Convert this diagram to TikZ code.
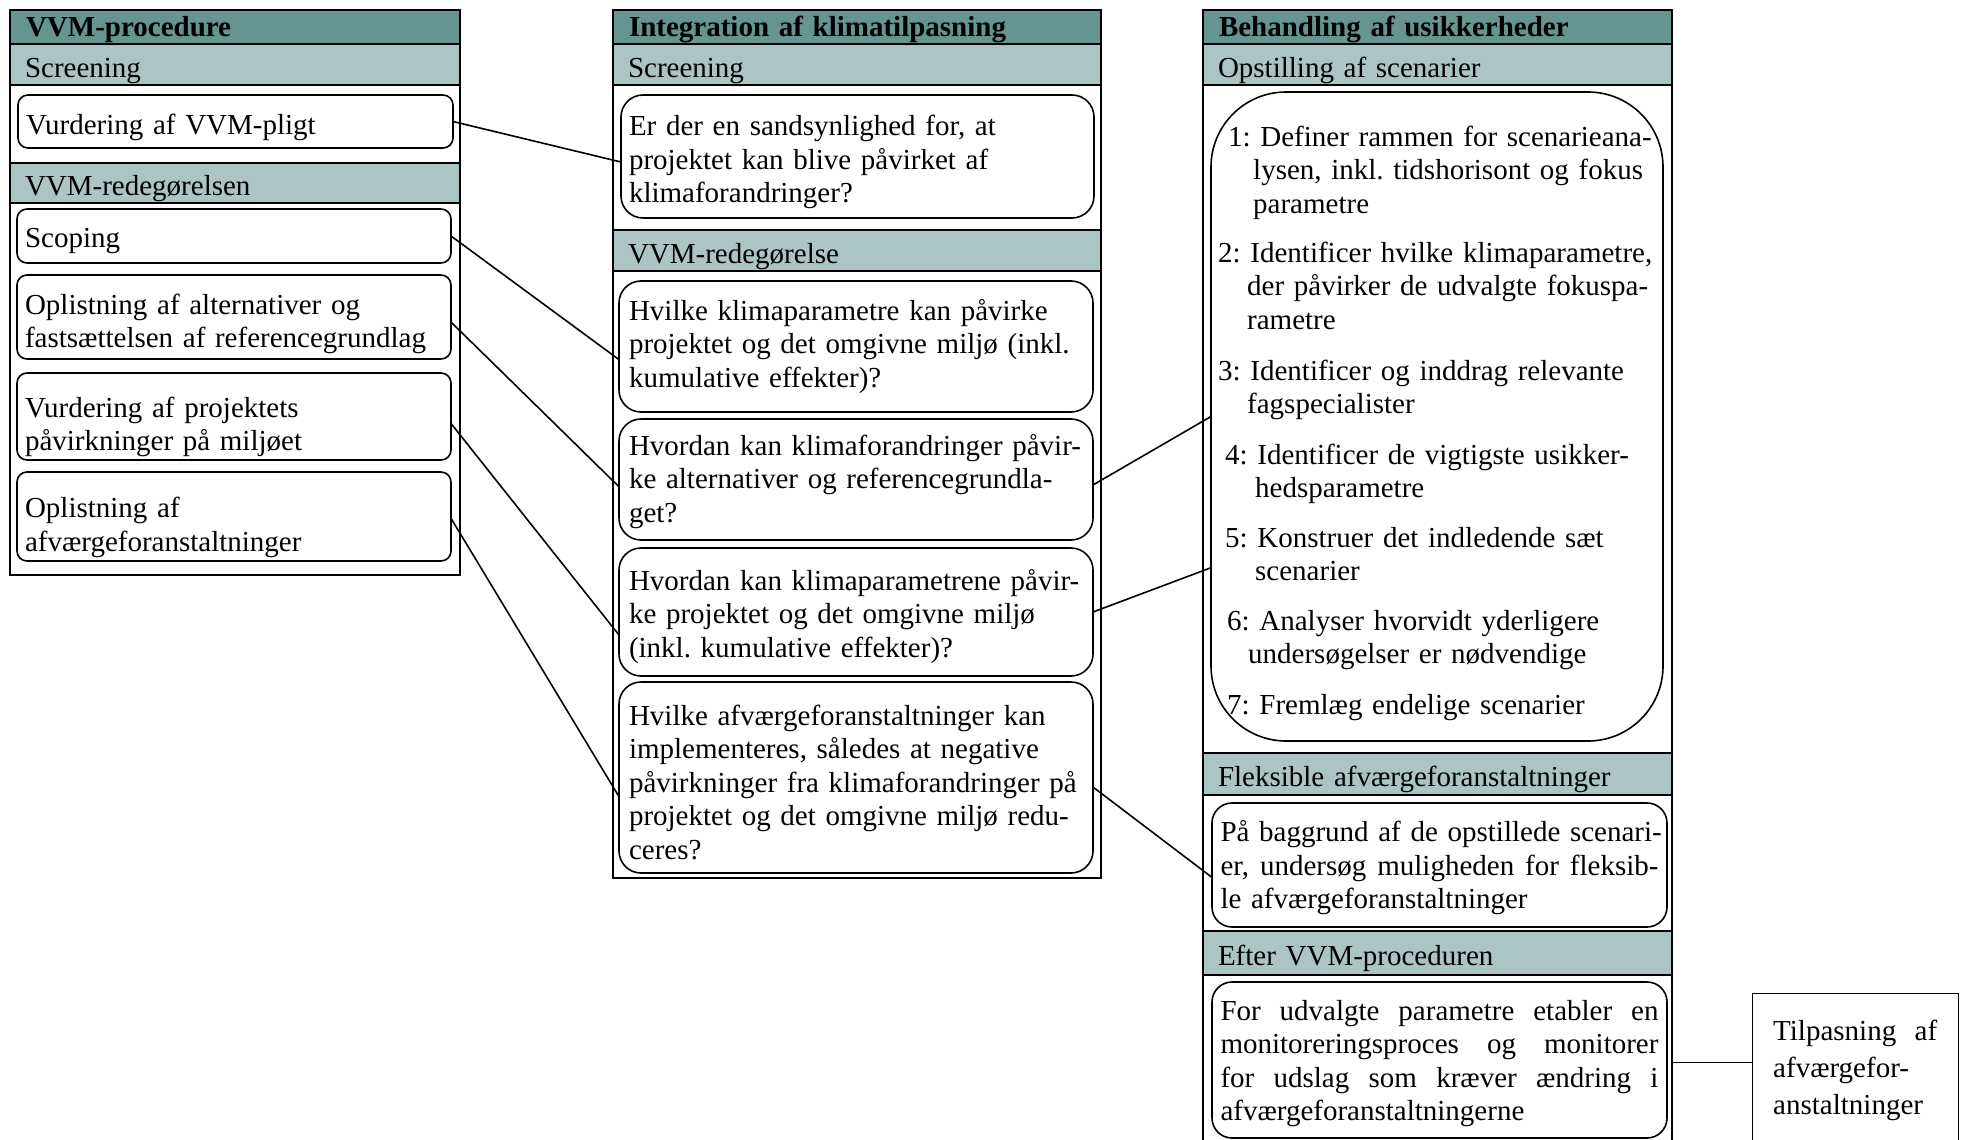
\documentclass[tikz,border=0pt]{standalone}
\usepackage{fontspec}
\setmainfont{Liberation Serif}
\usetikzlibrary{calc}
\frenchspacing
\definecolor{bandDark}{RGB}{102,148,144}
\definecolor{bandLight}{RGB}{170,197,195}
\newcommand{\bodyfont}{\fontsize{29}{33.5}\selectfont}
% a line set flush to both margins
\newcommand{\fullline}[2]{\leavevmode\hbox to #1{#2}}

\tikzset{
  colframe/.style={draw, line width=2.6pt, anchor=north west, inner sep=0pt, outer sep=0pt},
  titlebar/.style={colframe, fill=bandDark, font=\bfseries\bodyfont, align=left, inner xsep=16pt,
    text height=20pt, text depth=1pt},
  subbar/.style={colframe, fill=bandLight, font=\bodyfont, align=left, inner xsep=15pt,
    text height=25pt, text depth=0pt},
  section/.style={colframe, fill=white},
  card/.style={draw, line width=1.6pt, rounded corners=#1, anchor=north west, inner xsep=8pt,
    inner ysep=0pt, outer sep=0pt, align=left, font=\bodyfont, fill=white, text height=20pt},
  itemtext/.style={anchor=base west, inner sep=0pt, text width=445pt, align=left, font=\bodyfont},
  link/.style={draw, line width=1.6pt}
}

\begin{document}
\begin{tikzpicture}[x=1pt,y=-1pt]
\useasboundingbox (0,0) rectangle (1968,1140);

% ---------- left column: VVM-procedure ----------
\node[section, minimum width=450pt, minimum height=78pt]  (Lsec1) at (10,85) {};
\node[section, minimum width=450pt, minimum height=372pt] (Lsec2) at (10,203) {};
\node[titlebar, text width=418pt, minimum height=34pt] (Lt)  at (10,10)  {VVM-procedure};
\node[subbar,   text width=420pt, minimum height=41pt, text height=26pt] (Lb1) at (10,44)  {Screening};
\node[subbar,   text width=420pt, minimum height=40pt] (Lb2) at (10,163) {VVM-redegørelsen};

\node[card=10pt, text width=419pt, minimum height=53pt, text height=25pt, text depth=0pt] (lv) at (18,95)  {Vurdering af VVM-pligt};
\node[card=10pt, text width=418pt, minimum height=54pt, text height=22.5pt, text depth=0pt] (ls) at (17,209) {Scoping};
\node[card=10pt, text width=418pt, minimum height=84pt, text depth=26pt] (la) at (17,275) {Oplistning af alternativer og\\fastsættelsen af referencegrundlag};
\node[card=10pt, text width=418pt, minimum height=87pt, text depth=19pt] (lp) at (17,373) {Vurdering af projektets\\påvirkninger på miljøet};
\node[card=10pt, text width=418pt, minimum height=89pt, text depth=18pt] (lf) at (17,472) {Oplistning af\\afværgeforanstaltninger};

% ---------- middle column: Integration af klimatilpasning ----------
\node[section, minimum width=488pt, minimum height=145pt] (Msec1) at (613,85) {};
\node[section, minimum width=488pt, minimum height=607pt] (Msec2) at (613,271) {};
\node[titlebar, text width=456pt, minimum height=34pt] (Mt)  at (613,10)  {Integration af klimatilpasning};
\node[subbar,   text width=458pt, minimum height=41pt, text height=26pt] (Mb1) at (613,44)  {Screening};
\node[subbar,   text width=458pt, minimum height=41pt] (Mb2) at (613,230) {VVM-redegørelse};

\node[card=22pt, text width=457pt, minimum height=123pt, text depth=61.5pt] (er) at (621,95)  {Er der en sandsynlighed for, at\\projektet kan blive påvirket af\\klimaforandringer?};
\node[card=22pt, inner xsep=10pt, text width=454pt, minimum height=131pt, text depth=72.5pt] (q1) at (619,281) {Hvilke klimaparametre kan påvirke\\projektet og det omgivne miljø (inkl.\\kumulative effekter)?};
\node[card=22pt, inner xsep=10pt, text width=454pt, minimum height=121pt, text depth=69pt] (q2) at (619,419) {Hvordan kan klimaforandringer påvir-\\ke alternativer og referencegrundla-\\get?};
\node[card=22pt, inner xsep=10pt, text width=454pt, minimum height=128pt, text depth=64pt] (q3) at (619,548) {Hvordan kan klimaparametrene påvir-\\ke projektet og det omgivne miljø\\(inkl. kumulative effekter)?};
\node[card=22pt, inner xsep=10pt, text width=454pt, minimum height=191pt, text depth=125pt] (q4) at (619,682) {Hvilke afværgeforanstaltninger kan\\implementeres, således at negative\\påvirkninger fra klimaforandringer på\\projektet og det omgivne miljø redu-\\ceres?};

% ---------- right column: Behandling af usikkerheder ----------
\node[section, minimum width=469pt, minimum height=668pt] (Rsec1) at (1203,85)  {};
\node[section, minimum width=469pt, minimum height=136pt] (Rsec2) at (1203,795) {};
\node[section, minimum width=469pt, minimum height=175pt] (Rsec3) at (1203,975) {};
\node[titlebar, text width=437pt, minimum height=34pt] (Rt)  at (1203,10)  {Behandling af usikkerheder};
\node[subbar,   text width=439pt, minimum height=41pt, text height=26pt] (Rb1) at (1203,44)  {Opstilling af scenarier};
\node[subbar,   text width=439pt, minimum height=42pt] (Rb2) at (1203,753) {Fleksible afværgeforanstaltninger};
\node[subbar,   text width=439pt, minimum height=44pt] (Rb3) at (1203,931) {Efter VVM-proceduren};

% scenario steps
\node[draw, line width=1.6pt, rounded corners=75pt, anchor=north west, inner sep=0pt, outer sep=0pt,
      minimum width=452pt, minimum height=649pt] (big) at (1211,92) {};
\node[itemtext] (s1) at (1228,146) {1: Definer rammen for scenarieana-\\\hspace*{25pt}lysen, inkl. tidshorisont og fokus\\\hspace*{25pt}parametre};
\node[itemtext] (s2) at (1218,262) {2: Identificer hvilke klimaparametre,\\\hspace*{29pt}der påvirker de udvalgte fokuspa-\\\hspace*{29pt}rametre};
\node[itemtext] (s3) at (1218,380) {3: Identificer og inddrag relevante\\\hspace*{29pt}fagspecialister};
\node[itemtext] (s4) at (1225,464) {4: Identificer de vigtigste usikker-\\\hspace*{30pt}hedsparametre};
\node[itemtext] (s5) at (1225,547) {5: Konstruer det indledende sæt\\\hspace*{30pt}scenarier};
\node[itemtext] (s6) at (1227,630) {6: Analyser hvorvidt yderligere\\\hspace*{21pt}undersøgelser er nødvendige};
\node[itemtext] (s7) at (1227,714) {7: Fremlæg endelige scenarier};

\node[card=20pt, text width=438pt, inner xsep=8.5pt, minimum height=124pt, text depth=67pt] (flex) at (1212,803)
  {\fullline{438pt}{På\hfil\ baggrund\hfil\ af\hfil\ de\hfil\ opstillede\hfil\ scenari-}\\
   \fullline{438pt}{er,\hfil\ undersøg\hfil\ muligheden\hfil\ for\hfil\ fleksib-}\\
   le afværgeforanstaltninger};
\node[card=20pt, text width=438pt, inner xsep=8.5pt, minimum height=156pt, text depth=100pt] (efter) at (1212,982)
  {\fullline{438pt}{For\hfil\ udvalgte\hfil\ parametre\hfil\ etabler\hfil\ en}\\
   \fullline{438pt}{monitoreringsproces\hfil\ og\hfil\ monitorer}\\
   \fullline{438pt}{for\hfil\ udslag\hfil\ som\hfil\ kræver\hfil\ ændring\hfil\ i}\\
   afværgeforanstaltningerne};

% follow-up box
\node[draw, line width=1.2pt, anchor=north west, inner sep=0pt, minimum width=206pt, minimum height=160pt] (tilp) at (1752,993) {};
\node[itemtext, text width=170pt, font=\fontsize{29}{37}\selectfont] (tilptext) at (1773,1040)
  {\fullline{164pt}{Tilpasning\hfil\ af}\\afværgefor-\\anstaltninger};

% ---------- connectors ----------
\draw[link] (lv.east) -- ($(er.north west)!0.545!(er.south west)$);
\draw[link] (ls.east) -- ($(q1.north west)!0.60!(q1.south west)$);
\draw[link] ($(la.north east)!0.56!(la.south east)$) -- ($(q2.north west)!0.56!(q2.south west)$);
\draw[link] ($(lp.north east)!0.58!(lp.south east)$) -- ($(q3.north west)!0.68!(q3.south west)$);
\draw[link] ($(lf.north east)!0.52!(lf.south east)$) -- ($(q4.north west)!0.60!(q4.south west)$);
\draw[link] ($(q2.north east)!0.545!(q2.south east)$) -- (big.west);
\draw[link] (q3.east) -- ($(big.north west)!0.733!(big.south west)$);
\draw[link] ($(q4.north east)!0.55!(q4.south east)$) -- ($(flex.north west)!0.60!(flex.south west)$);
\draw[link] (Rsec3.east) -- (Rsec3.east -| tilp.west);
\end{tikzpicture}
\end{document}
